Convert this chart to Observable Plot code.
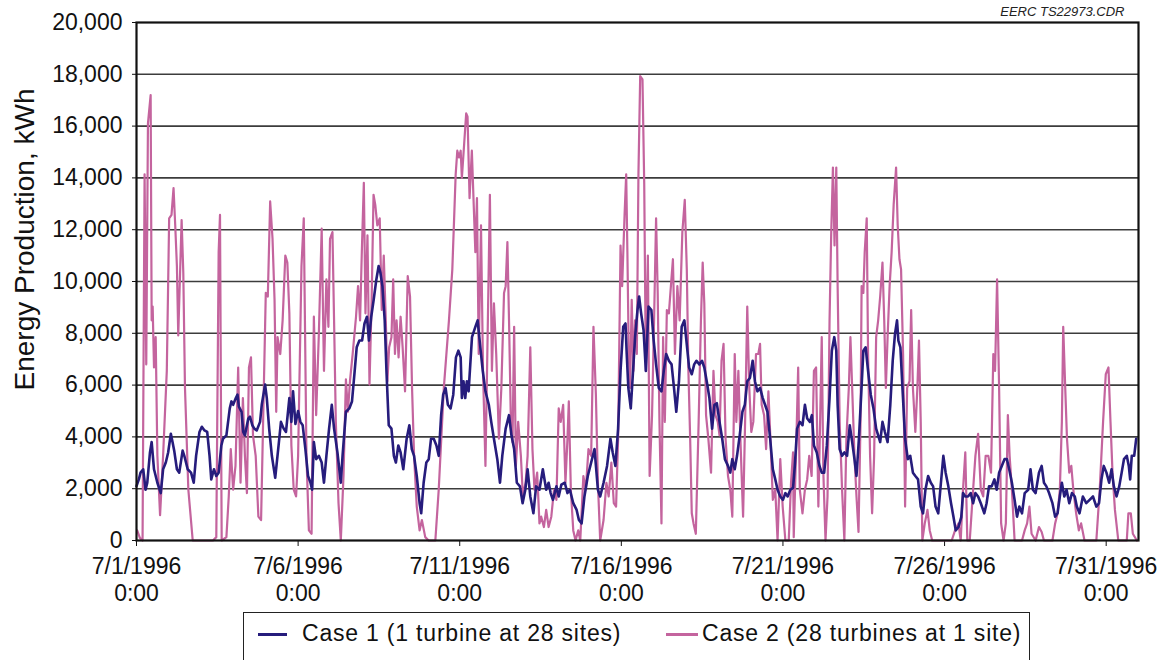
<!DOCTYPE html>
<html>
<head>
<meta charset="utf-8">
<script src="https://cdn.jsdelivr.net/npm/d3@7"></script>
<script src="https://cdn.jsdelivr.net/npm/@observablehq/plot@0.6"></script>
<style>
  html, body { margin: 0; padding: 0; background: #fff; }
  #wrap { position: relative; width: 1157px; height: 660px; overflow: hidden; font-family: "Liberation Sans", Arial, sans-serif; color: #111; }
  #chart { position: absolute; left: 0; top: 0; }
  #legend { position: absolute; left: 243px; top: 612px; width: 787px; height: 50px; border: 1.6px solid #222; box-sizing: border-box; background: #fff; }
  .sw { position: absolute; top: 19.5px; height: 3px; }
  .lt { position: absolute; top: 6px; font-size: 23px; line-height: 28px; letter-spacing: 0.8px; white-space: nowrap; color: #111; }
</style>
</head>
<body>
<div id="wrap">
  <div id="chart"></div>
  <div id="legend">
    <div class="sw" id="sw1" style="left:14px; width:29px;"></div>
    <div class="lt" id="lt1" style="left:58px;"></div>
    <div class="sw" id="sw2" style="left:422px; width:32px;"></div>
    <div class="lt" id="lt2" style="left:458px;"></div>
  </div>
</div>
<script>
// ---- Data (hours after 7/1/1996 0:00, kWh) ----
const seriesNames = ["Case 1 (1 turbine at 28 sites)", "Case 2 (28 turbines at 1 site)"];
const seriesColors = ["#261c7c", "#c4649e"];
const yTitle = "Energy Production, kWh";
const creditText = "EERC TS22973.CDR";
const yTicks = [0, 2000, 4000, 6000, 8000, 10000, 12000, 14000, 16000, 18000, 20000];
const xTickHours = [0, 120, 240, 360, 480, 600, 720];
const xTickLine1 = ["7/1/1996", "7/6/1996", "7/11/1996", "7/16/1996", "7/21/1996", "7/26/1996", "7/31/1996"];
const xTickLine2 = ["0:00", "0:00", "0:00", "0:00", "0:00", "0:00", "0:00"];

const case1Hours = [0,1.75,3,5,6.75,8,10,11.25,13,15.5,18,19.75,21.75,23.5,25.5,26.75,28,30,31.75,34.25,35.5,38,40.5,42.5,44.25,46.75,48.5,50.5,52.5,54.25,55.5,57.5,59.25,61,63,64.25,66.75,69.25,70.5,71.75,73.75,75,76,78,79.25,80.5,83,84.25,86,87.5,89.25,91.75,93,95.5,96.75,98.5,100.5,103,105.5,107.25,109.25,111,113.5,115,116.25,118,120,121.7,123.4,125.4,127.4,129.2,130.4,131.7,133.4,135.4,137.5,139.2,141,143,145,146.7,149.2,151.7,153,155.5,158,160,161.8,163.5,165.5,167.5,169.3,171.1,172.6,174.3,176.1,178.1,179.8,181.1,182.6,184.3,185.6,187.3,189.3,191.1,192.6,194.4,196.1,198.1,200.6,202.6,204.4,206.1,208.1,210.2,211.4,213.2,215.2,217,218.7,220.7,222.7,224.4,226.2,227.7,229.5,231.2,233.2,235.2,237.2,239,240.7,241.6,242.8,244.1,245.3,246.6,249.1,251.6,253.3,255.3,257.1,259.1,261.6,263.4,265.4,267.9,269.9,271.6,274.1,276.6,278.4,280.4,282.4,284.7,286.7,288.7,290.4,292.4,294.7,296.7,299.2,301.7,304.2,306,307.5,309.2,311.8,313.5,315.5,318,320,321.8,324.3,326.8,328.5,330.5,332.6,335.1,337.6,340.1,342.6,344.3,346.8,349.4,351.9,353.6,355.6,357.6,359.4,361.4,363.1,364,365.2,367,368.7,370.2,372,373.2,374.7,376.5,378.2,380.2,382.3,384,385.8,387.8,389.8,391.5,393.3,395.3,397.3,399.1,400.8,402.8,404.8,406.8,408.3,410.3,412.3,414.1,415.8,417.9,419.9,421.6,423.4,425.4,427.4,429.1,430.9,432.9,434.9,436.9,439.2,440.9,442.4,444.2,445.9,447.9,449.9,451.7,453.5,455.5,457.5,459.2,461,463,465,466.7,468.5,470.5,472.5,474.3,476,478,480,481.8,483.5,485.5,487.5,488.8,490.5,492.5,494.5,496.3,498,500,501.5,503,505.1,507.1,508.8,510.6,512.6,514.6,516.3,518.1,519.6,520.6,522.1,523.9,525.6,527.6,529.6,531.4,533.1,534.6,536.4,538.1,539.7,541.4,543.2,545.2,547.2,549.2,550.7,552.2,553.9,555.7,557.7,559.7,561.5,563.2,564.7,565.7,567.2,569,570.7,572.7,574.5,576.5,578.3,580.3,582.3,584,585.8,587.8,589.8,591.5,593.3,595.3,597.3,599.1,600.8,602.8,604.8,606.6,608.3,610.3,612.4,613.7,615.4,617.4,619.4,621.2,622.9,624.9,626.9,629.5,631.2,633,635,637,638.7,640.5,642.5,644.5,646.3,648,650,652,653.8,655.5,657.5,659.5,662.1,663.8,665.6,667.6,670.1,672.1,673.8,675.6,677.6,680.1,682.1,683.9,685.6,687.1,688.9,690.6,692.6,694.6,696.7,698.2,700.2,702.7,705.2,707.7,710.2,712.7,714.7,716.5,718.2,720.2,722.2,724,725.7,727.7,729.7,731.5,733.2,735.3,736.8,737.8,739,740.8,742.3];
const case1Values = [2100,2360,2620,2750,1960,2230,3400,3800,2750,2230,1830,2750,3010,3400,4120,3800,3470,2750,2620,3470,3270,2750,2620,2230,3270,4190,4390,4250,4190,3270,2360,2750,2490,2620,3670,3930,4060,5100,5370,5240,5500,5630,5170,4970,4190,4060,4710,4780,4450,4320,4250,4580,5240,6020,5500,4320,3270,2420,3670,4580,4320,4190,5500,4580,5760,4500,5000,4580,4450,3530,2490,2230,1960,3800,3140,3270,3010,2230,3270,4320,5240,4320,3400,2230,3270,4970,5100,5370,6420,7460,7720,7720,8380,8640,7720,8640,9290,10080,10600,10340,9820,8500,6550,4450,4320,3270,3010,3670,3400,2750,3930,4450,3530,3270,2490,1440,1050,2230,3010,3140,3930,3930,3670,3270,4840,5630,5890,5240,5100,5630,7070,7330,7070,5500,6150,5500,6150,5760,7850,8250,8500,7460,6550,5760,5240,4580,3930,3140,2230,3270,4320,4840,4060,3530,2230,2090,1440,1960,2750,1700,1050,2090,1960,2750,1960,2230,1830,1570,2090,1700,2160,2230,1830,1960,1440,1180,790,660,1700,2490,3010,3530,1960,1700,2230,2880,3930,3400,2880,4320,6550,8250,8380,7200,5890,5100,6550,7850,8900,9420,8770,8120,6550,9030,8900,7720,6800,5890,5760,6550,7200,6940,6800,5890,4970,6150,8250,8500,7720,6680,6420,6800,6940,6800,6940,6680,6150,5500,4320,5240,5300,4580,3930,3140,2880,2620,3140,2750,3270,4060,4970,5240,6150,6280,6940,6150,5760,5890,5500,5240,4970,3930,2750,2360,1960,1700,1570,1830,1700,1960,2030,2880,4320,4580,4450,5240,4710,4580,4840,3670,3400,2880,2620,2620,3670,5500,7330,7850,7330,5240,3530,3270,3400,3270,4450,3800,3140,2490,3930,5630,7330,7460,6550,5630,5100,4320,4060,3800,4580,4190,3800,5240,6940,7980,8500,7720,7460,5630,3930,3140,3270,2620,2490,2360,1310,1050,1960,2490,2230,2090,1310,1050,2230,3270,2620,2090,1440,920,390,520,900,1830,1700,1700,1830,1440,1830,1700,1440,1050,1440,2090,2090,2360,1960,2620,2880,3140,3140,2750,2230,1570,920,1310,1050,1830,1960,2750,1960,1830,2620,2880,2230,2090,1830,1440,920,1050,1700,2230,1700,1960,1440,1830,1700,1310,1050,1700,1440,1570,1700,1310,1440,2360,2880,2620,2230,2750,2090,1700,2090,2620,3140,3270,2880,2360,3270,3270,3930];

const case2Hours = [0.5,2.5,4.5,6,7.25,8.5,10.5,11.25,12,13,14.25,15.5,17.5,19.75,22.5,24.25,26,27.5,28.75,30,31,33.5,34.75,36,38.5,41.75,56.75,59.25,61,62,63.25,66.75,68.5,70,71.75,73.5,75.5,77.25,79,80.5,82,83.5,85,86.5,88.5,90.5,92.5,93.75,96,97.5,99.25,101,102.5,103.75,104.75,106.75,108.5,110.5,112,113.5,115,116.75,118.5,120,122.5,124.2,126.2,128,130,131.7,133.4,135.4,137.5,139.2,141,142.5,143.7,145.5,146.7,148,150,151.7,153.7,155.5,157,158.5,160.5,163,164.5,166,167.3,168.8,170,171.5,173,174.6,176,177.3,178.8,180.6,182.1,183.6,185.1,186.3,187.6,189.3,190.6,191.9,193.1,194.6,196.1,197.6,199.4,201.4,203.1,204.6,206.1,208.1,210.2,211.9,214.4,216.9,221.9,224.4,228.2,232,234.5,237,238.2,239.5,240.7,241.6,243.3,244.8,245.8,247.3,249,250.3,251.6,252.8,254.1,255.8,257.3,259.1,260.9,262.4,263.9,265.4,267.1,269.1,270.9,272.9,274.1,275.4,276.6,277.9,279.2,280.4,281.7,283.4,285.4,286.9,288.9,290.4,292.4,294,295.5,297.5,299.2,300.5,302.5,304.2,306,308,310,311.8,313.5,315,316.8,318.5,320,321,322.5,324.3,326,328,329.5,331.8,333.6,335.6,337.6,339.3,341.1,342.6,344.3,346.8,348.9,350.6,352.6,354.4,356.1,357.6,359.4,360.6,362.4,363.6,364.5,365.5,366.5,367.7,369,370.2,371.5,372.7,374,375.7,377,378.2,379.7,381,382.8,384.3,385.8,387,388.3,389.8,391,392.3,393.8,395.3,396.8,398.3,399.8,401.6,403.3,405.3,407.1,408.6,409.8,411.1,412.3,413.6,415.3,417.4,419.1,420.4,421.6,422.9,424.6,426.6,428.4,429.9,431.6,432.9,434.4,435.9,437.4,439.2,440.9,442.4,444.2,445.4,446.9,448.4,450.4,451.9,453.5,455,456.5,458,460,461.7,463,464.2,466,467.5,469.2,471,472.5,474.3,476,478,479.8,481.8,484.3,486,487.5,488,490,491.3,492.5,494.5,496.3,498,499.5,501.3,503,504.6,506.3,507.6,508.8,510,511.6,513.1,514.6,515.8,517.1,518.3,519.6,520.6,522.1,523.9,525.6,527.1,528.9,530.1,531.4,533.1,534.6,536.1,537.6,538.4,539.7,540.7,542.2,543.2,544.7,546.2,547.7,549.2,550.7,552.2,553.9,555.2,556.4,557.7,559.2,560.7,562.2,564,565.2,566.5,567.7,569.2,570.7,572.2,574,575.2,576.5,578.3,579.8,581,582.3,583.5,585.3,587.3,589,590.8,605.3,607.8,610.3,612,613.7,615.4,616.9,618.7,621.2,622.9,624.9,626.9,628.7,630.5,632.5,634.5,636.2,637.5,639,640.5,642,643.8,645.5,647,648.3,650,652,657.5,659.5,661.3,663,664.6,667.6,670.1,672.1,673.8,680.1,682.1,683.9,685.6,687.1,688.1,689.6,690.9,692.6,694.1,695.6,697.7,699.7,701.4,703.9,712.7,715.2,717.7,719.7,721.7,723.2,724.7,726.5,729,735.3,736.5,738.3,739.8,742.8];
const case2Values = [390,100,0,14140,6800,16100,17200,8500,9030,6680,7850,3270,980,3270,6550,12440,12570,13610,12170,10600,7920,12370,10340,5890,1960,0,0,130,11130,12570,0,130,1700,3530,1960,2880,6680,2230,5500,3270,1830,6680,7070,4060,3270,920,790,3930,9560,9420,13090,11650,9290,4970,7850,7200,8500,11000,10730,8770,3670,1960,1700,3270,10600,12440,3270,390,260,8640,4840,7980,12040,6550,10080,8250,11650,11910,8500,4580,1440,0,2490,6220,4970,6150,7200,8640,9820,8500,11130,13810,8770,11780,6020,9290,13350,12960,12170,12440,8900,11000,8500,6150,7460,7850,10080,7200,8500,7070,8640,7460,5760,10210,9420,5890,3270,1310,390,790,130,0,0,1960,5890,8500,10470,14140,15050,14790,15050,14000,15320,16490,16360,13220,15050,13090,11130,13220,7200,12170,6550,2880,8500,13350,6550,9160,7200,3930,5890,9560,9820,11520,8500,4840,3800,8250,2880,4580,3270,1700,2230,3270,7460,3530,1960,2620,660,920,520,1180,520,920,1960,1570,5100,4580,5240,2230,3930,5370,1960,390,0,390,0,2490,1960,3530,3270,8250,5630,2230,0,790,2230,1700,3010,1440,1310,3930,11390,9820,12570,14140,11130,7200,5890,9290,6550,8500,7200,14140,17930,17800,13740,6550,11000,2490,4840,8500,12440,9560,4580,660,7850,4580,8900,8770,9820,10860,7200,9820,8500,11910,13150,10470,6550,3930,1050,660,260,4580,8500,10730,9160,4840,3930,2620,6550,4840,4580,4060,6940,7590,3930,2490,1960,920,7200,4580,6550,3930,920,4580,9030,5890,4190,4580,7200,7200,7590,5240,4840,3530,5760,3530,1570,1960,0,3140,1310,0,0,2230,3400,130,3930,6680,1960,1050,1960,2360,3270,2490,6550,6680,1310,4580,7850,2620,0,1700,8500,11780,14400,11390,14400,9820,4580,1960,0,3930,5890,7850,5890,3270,1700,330,4580,9820,9560,11130,12440,7200,3270,1050,3270,7850,8500,9420,10730,8500,5890,7850,9820,11130,12960,14400,12170,10860,10470,7200,1310,5890,6150,8900,5890,4190,5890,7720,4580,0,660,1180,390,0,0,390,660,0,1960,3400,0,0,1960,3270,4120,1960,1700,3270,3270,2620,7200,6550,10080,5890,660,0,660,4840,3270,1960,0,0,390,660,1310,260,0,520,330,0,0,660,1050,1960,4580,8250,5890,3930,2620,2880,1960,1050,390,660,0,0,1960,4580,6420,6680,4580,2620,1180,0,0,1050,1050,260,0];

// ---- Build ----
const start = Date.UTC(1996, 6, 1);
const toDate = h => new Date(start + h * 3600e3);
const case1 = case1Hours.map((h, i) => ({t: toDate(h), v: case1Values[i]}));
const case2 = case2Hours.map((h, i) => ({t: toDate(h), v: case2Values[i]}));
const xTickDates = xTickHours.map(toDate);

const chart = Plot.plot({
  width: 1157,
  height: 612,
  marginLeft: 136,
  marginRight: 19,
  marginTop: 22,
  marginBottom: 72,
  style: {fontFamily: "'Liberation Sans', Arial, sans-serif", fontSize: "23px", color: "#111", background: "white", overflow: "visible"},
  x: {type: "utc", domain: [toDate(0), toDate(744)], ticks: xTickDates, tickFormat: () => "", tickSize: 6, label: null},
  y: {domain: [0, 20000], ticks: yTicks, tickFormat: d3.format(","), tickSize: 4, tickPadding: 10, label: null},
  marks: [
    Plot.ruleY(yTicks.slice(1, -1), {stroke: "#3c3c3c", strokeWidth: 1.6}),
    Plot.line(case2, {x: "t", y: "v", stroke: seriesColors[1], strokeWidth: 2.2}),
    Plot.line(case1, {x: "t", y: "v", stroke: seriesColors[0], strokeWidth: 2.6}),
    Plot.frame({stroke: "#111", strokeWidth: 2.2}),
    Plot.text(xTickDates, {x: d => d, text: (d, i) => xTickLine1[i], frameAnchor: "bottom", lineAnchor: "middle", dy: 26, fontSize: 23, fill: "#111"}),
    Plot.text(xTickDates, {x: d => d, text: (d, i) => xTickLine2[i], frameAnchor: "bottom", lineAnchor: "middle", dy: 53, fontSize: 23, fill: "#111"}),
    Plot.text([yTitle], {frameAnchor: "left", textAnchor: "middle", lineAnchor: "middle", rotate: -90, dx: -111, dy: -42, fontSize: 28, fill: "#111"}),
    Plot.text([creditText], {frameAnchor: "top-right", textAnchor: "end", lineAnchor: "middle", dx: -14, dy: -11, fontStyle: "italic", fontSize: 13, fill: "#222"})
  ]
});
document.getElementById("chart").appendChild(chart);

document.getElementById("sw1").style.background = seriesColors[0];
document.getElementById("sw2").style.background = seriesColors[1];
document.getElementById("lt1").textContent = seriesNames[0];
document.getElementById("lt2").textContent = seriesNames[1];
</script>
</body>
</html>
